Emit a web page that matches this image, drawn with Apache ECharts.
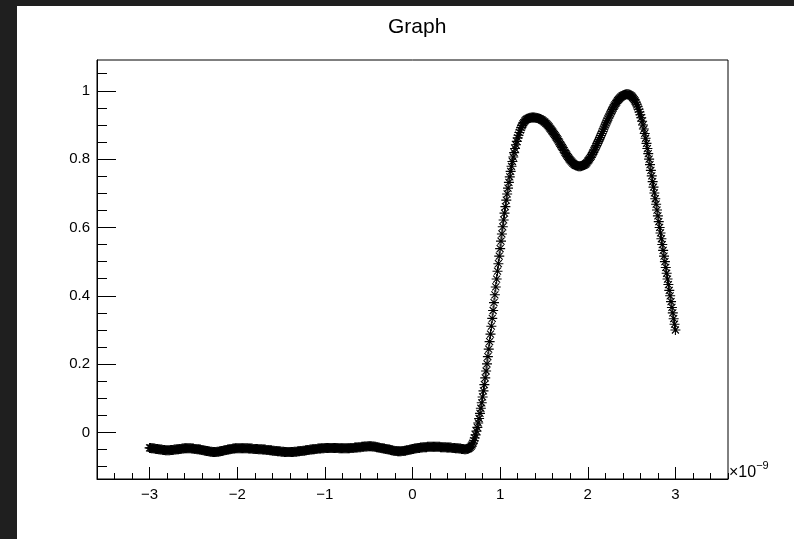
<!DOCTYPE html>
<html>
<head>
<meta charset="utf-8">
<script src="https://cdn.jsdelivr.net/npm/echarts@6/dist/echarts.min.js"></script>
<style>
  html, body { margin: 0; padding: 0; width: 794px; height: 539px; background: #1f1f1f; overflow: hidden; }
  #chart { position: absolute; left: 17px; top: 6px; width: 777px; height: 533px; background: #fff; }
</style>
</head>
<body>
<div id="chart"></div>
<script>
// sample times in units of 1e-9, first sample and spacing
const tStart = -3;
const tStep = 0.01;

// graph values, one per sample from -3 to 3
const yValues = [
  -0.045,-0.045,-0.046,-0.046,-0.046,-0.047,-0.047,-0.048,-0.048,-0.048,
  -0.049,-0.049,-0.050,-0.050,-0.050,-0.051,-0.051,-0.051,-0.052,-0.052,
  -0.052,-0.052,-0.052,-0.052,-0.051,-0.051,-0.051,-0.051,-0.050,-0.050,
  -0.050,-0.049,-0.049,-0.049,-0.048,-0.048,-0.048,-0.047,-0.047,-0.047,
  -0.046,-0.046,-0.046,-0.046,-0.046,-0.046,-0.046,-0.046,-0.047,-0.047,
  -0.047,-0.048,-0.048,-0.048,-0.049,-0.049,-0.049,-0.050,-0.050,-0.051,
  -0.051,-0.052,-0.052,-0.053,-0.053,-0.054,-0.054,-0.055,-0.055,-0.056,
  -0.056,-0.056,-0.057,-0.057,-0.057,-0.057,-0.057,-0.056,-0.056,-0.056,
  -0.055,-0.055,-0.054,-0.054,-0.053,-0.052,-0.052,-0.051,-0.051,-0.050,
  -0.050,-0.049,-0.049,-0.048,-0.048,-0.047,-0.047,-0.047,-0.046,-0.046,
  -0.046,-0.046,-0.046,-0.046,-0.046,-0.046,-0.046,-0.046,-0.046,-0.046,
  -0.046,-0.046,-0.046,-0.047,-0.047,-0.047,-0.047,-0.047,-0.048,-0.048,
  -0.048,-0.048,-0.048,-0.048,-0.049,-0.049,-0.049,-0.049,-0.049,-0.050,
  -0.050,-0.050,-0.050,-0.051,-0.051,-0.051,-0.051,-0.052,-0.052,-0.052,
  -0.053,-0.053,-0.053,-0.054,-0.054,-0.054,-0.055,-0.055,-0.055,-0.055,
  -0.056,-0.056,-0.056,-0.056,-0.057,-0.057,-0.057,-0.057,-0.057,-0.057,
  -0.057,-0.057,-0.057,-0.057,-0.057,-0.056,-0.056,-0.056,-0.056,-0.055,
  -0.055,-0.055,-0.054,-0.054,-0.054,-0.053,-0.053,-0.053,-0.052,-0.052,
  -0.051,-0.051,-0.051,-0.050,-0.050,-0.050,-0.049,-0.049,-0.049,-0.048,
  -0.048,-0.048,-0.047,-0.047,-0.047,-0.047,-0.046,-0.046,-0.046,-0.046,
  -0.045,-0.045,-0.045,-0.045,-0.045,-0.045,-0.045,-0.045,-0.045,-0.045,
  -0.045,-0.045,-0.045,-0.045,-0.045,-0.045,-0.046,-0.046,-0.046,-0.046,
  -0.046,-0.046,-0.046,-0.046,-0.046,-0.046,-0.046,-0.046,-0.046,-0.045,
  -0.045,-0.045,-0.045,-0.045,-0.044,-0.044,-0.044,-0.044,-0.043,-0.043,
  -0.043,-0.043,-0.042,-0.042,-0.042,-0.041,-0.041,-0.041,-0.041,-0.040,
  -0.040,-0.040,-0.040,-0.040,-0.041,-0.041,-0.041,-0.042,-0.042,-0.043,
  -0.043,-0.044,-0.044,-0.045,-0.045,-0.046,-0.046,-0.047,-0.047,-0.048,
  -0.048,-0.049,-0.049,-0.050,-0.050,-0.051,-0.052,-0.052,-0.053,-0.053,
  -0.054,-0.054,-0.054,-0.055,-0.055,-0.055,-0.055,-0.055,-0.054,-0.054,
  -0.054,-0.053,-0.053,-0.052,-0.052,-0.051,-0.051,-0.050,-0.050,-0.049,
  -0.048,-0.048,-0.047,-0.047,-0.046,-0.046,-0.045,-0.045,-0.045,-0.044,
  -0.044,-0.044,-0.043,-0.043,-0.043,-0.043,-0.043,-0.042,-0.042,-0.042,
  -0.042,-0.042,-0.042,-0.042,-0.042,-0.042,-0.042,-0.042,-0.042,-0.042,
  -0.042,-0.042,-0.043,-0.043,-0.043,-0.043,-0.043,-0.043,-0.043,-0.044,
  -0.044,-0.044,-0.044,-0.044,-0.044,-0.045,-0.045,-0.045,-0.045,-0.046,
  -0.046,-0.046,-0.046,-0.047,-0.047,-0.047,-0.048,-0.048,-0.048,-0.049,
  -0.049,-0.049,-0.048,-0.048,-0.047,-0.045,-0.043,-0.040,-0.036,-0.031,
  -0.024,-0.016,-0.007,0.004,0.015,0.028,0.041,0.056,0.071,0.087,
  0.104,0.122,0.140,0.160,0.180,0.201,0.222,0.244,0.266,0.288,
  0.311,0.334,0.357,0.380,0.403,0.426,0.449,0.472,0.494,0.516,
  0.538,0.560,0.581,0.602,0.622,0.642,0.661,0.680,0.698,0.715,
  0.732,0.748,0.764,0.779,0.793,0.806,0.819,0.831,0.842,0.852,
  0.862,0.870,0.878,0.885,0.892,0.898,0.903,0.907,0.911,0.914,
  0.916,0.918,0.919,0.920,0.921,0.921,0.922,0.922,0.922,0.922,
  0.921,0.921,0.920,0.920,0.919,0.918,0.917,0.915,0.914,0.912,
  0.910,0.908,0.905,0.903,0.900,0.897,0.894,0.890,0.887,0.883,
  0.880,0.876,0.872,0.868,0.864,0.860,0.856,0.851,0.847,0.842,
  0.838,0.834,0.829,0.825,0.820,0.816,0.812,0.808,0.804,0.800,
  0.797,0.794,0.791,0.788,0.786,0.784,0.782,0.781,0.780,0.779,
  0.779,0.779,0.779,0.780,0.781,0.782,0.783,0.785,0.787,0.790,
  0.794,0.797,0.801,0.805,0.809,0.814,0.819,0.824,0.829,0.835,
  0.840,0.846,0.852,0.857,0.863,0.869,0.875,0.881,0.888,0.894,
  0.900,0.906,0.912,0.918,0.923,0.929,0.934,0.940,0.945,0.950,
  0.955,0.959,0.963,0.967,0.971,0.974,0.977,0.980,0.982,0.984,
  0.986,0.987,0.988,0.989,0.990,0.990,0.990,0.989,0.988,0.986,
  0.984,0.981,0.978,0.974,0.970,0.965,0.959,0.953,0.946,0.938,
  0.930,0.921,0.911,0.900,0.888,0.875,0.861,0.846,0.831,0.816,
  0.800,0.784,0.767,0.751,0.734,0.718,0.701,0.684,0.668,0.651,
  0.634,0.617,0.600,0.584,0.567,0.550,0.533,0.516,0.500,0.483,
  0.466,0.449,0.433,0.416,0.400,0.383,0.366,0.350,0.333,0.317,
  0.300
];

const xMajorTicks = [-3, -2, -1, 0, 1, 2, 3];
const yMajorTicks = [0, 0.2, 0.4, 0.6, 0.8, 1];
const xRange = [-3.6, 3.6];
const yRange = [-0.136, 1.09];

// minor ticks: 5 divisions per major on x, 4 on y
const xMinorTicks = [];
for (let k = -18; k <= 18; k++) xMinorTicks.push(+(k * 0.2).toFixed(2));
const yMinorTicks = [];
for (let k = -2; k <= 21; k++) yMinorTicks.push(+(k * 0.05).toFixed(2));

const points = yValues.map((y, i) => [+(tStart + i * tStep).toFixed(2), y]);

// ROOT style "*" marker
const asterisk = 'path://M0 4.45L10 4.45L10 5.55L0 5.55Z' +
  'M4.45 0L5.55 0L5.55 10L4.45 10Z' +
  'M1.89 1.11L8.89 8.11L8.11 8.89L1.11 1.89Z' +
  'M8.11 1.11L8.89 1.89L1.89 8.89L1.11 8.11Z';

const fontFamily = '"Liberation Sans", Arial, Helvetica, sans-serif';
const fmt = v => String(+(+v).toFixed(2)).replace('-', '\u2212');

const chart = echarts.init(document.getElementById('chart'), null, { renderer: 'canvas' });

const option = {
  backgroundColor: '#ffffff',
  animation: false,
  title: {
    text: 'Graph',
    left: 366,
    top: 6,
    textStyle: { fontFamily, fontSize: 21, fontWeight: 'normal', color: '#000' }
  },
  grid: {
    left: 80, right: 66, top: 54, bottom: 60,
    show: true, borderColor: '#000', borderWidth: 1, backgroundColor: 'transparent'
  },
  xAxis: [{
    type: 'value',
    min: xRange[0], max: xRange[1],
    name: '{m|\u00d710}{e|\u22129}',
    nameLocation: 'end',
    nameGap: 1,
    nameTextStyle: {
      fontFamily,
      fontSize: 16,
      color: '#000',
      verticalAlign: 'bottom',
      align: 'left',
      padding: [0, 0, -2, 0],
      rich: {
        m: { fontFamily, fontSize: 16, color: '#000', lineHeight: 21, verticalAlign: 'bottom' },
        e: { fontFamily, fontSize: 11, color: '#000', lineHeight: 21, verticalAlign: 'top' }
      }
    },
    axisLine: { onZero: false, lineStyle: { color: '#000', width: 1 } },
    axisTick: { inside: true, length: 12, customValues: xMajorTicks, lineStyle: { color: '#000' } },
    axisLabel: { customValues: xMajorTicks, formatter: fmt, margin: 8, color: '#000', fontFamily, fontSize: 15 },
    splitLine: { show: false }
  }, {
    type: 'value',
    position: 'bottom',
    min: xRange[0], max: xRange[1],
    axisLine: { show: false, onZero: false },
    axisTick: { inside: true, length: 6, customValues: xMinorTicks, lineStyle: { color: '#000' } },
    axisLabel: { show: false },
    splitLine: { show: false }
  }],
  yAxis: [{
    type: 'value',
    min: yRange[0], max: yRange[1],
    axisLine: { onZero: false, lineStyle: { color: '#000', width: 1 } },
    axisTick: { inside: true, length: 19, customValues: yMajorTicks, lineStyle: { color: '#000' } },
    axisLabel: { customValues: yMajorTicks, formatter: fmt, margin: 7, color: '#000', fontFamily, fontSize: 15 },
    splitLine: { show: false }
  }, {
    type: 'value',
    position: 'left',
    min: yRange[0], max: yRange[1],
    axisLine: { show: false, onZero: false },
    axisTick: { inside: true, length: 10, customValues: yMinorTicks, lineStyle: { color: '#000' } },
    axisLabel: { show: false },
    splitLine: { show: false }
  }],
  series: [{
    name: 'Graph',
    type: 'scatter',
    xAxisIndex: 0,
    yAxisIndex: 0,
    symbol: asterisk,
    symbolSize: 10,
    itemStyle: { color: '#000', opacity: 1 },
    data: points
  }]
};

chart.setOption(option);
</script>
</body>
</html>
